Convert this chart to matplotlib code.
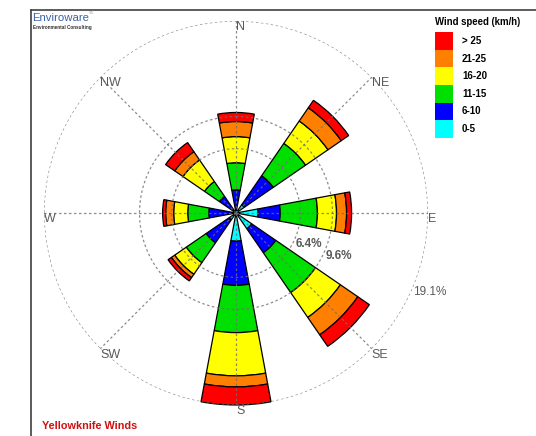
import numpy as np
import matplotlib.pyplot as plt
from matplotlib.lines import Line2D

plt.rcParams['font.family'] = ['Liberation Sans', 'DejaVu Sans']

directions = ['N', 'NE', 'E', 'SE', 'S', 'SW', 'W', 'NW']
angles_deg = [0, 45, 90, 135, 180, 225, 270, 315]
speed_bins = ['0-5', '6-10', '11-15', '16-20', '21-25', '> 25']
bin_colors = ['#00ffff', '#0000ff', '#00e000', '#ffff00', '#ff8000', '#ff0000']

# frequency (%) of each speed class, one value per direction (N, NE, ... NW)
freq_0_5 = [0.3, 1.0, 2.2, 1.9, 2.8, 0.8, 0.4, 0.3]
freq_6_10 = [2.0, 3.5, 2.2, 2.9, 4.4, 2.8, 2.3, 1.7]
freq_11_15 = [2.7, 3.9, 3.7, 4.8, 4.7, 2.4, 2.1, 1.8]
freq_16_20 = [2.6, 2.7, 1.9, 3.0, 4.3, 1.4, 1.4, 2.6]
freq_21_25 = [1.5, 1.6, 1.0, 2.1, 1.1, 0.4, 0.8, 1.0]
freq_gt_25 = [0.9, 0.9, 0.5, 1.4, 1.8, 0.4, 0.3, 1.1]

ring_levels = [6.4, 9.6, 19.1]

W, H = 536, 436
fig = plt.figure(figsize=(W / 100, H / 100), dpi=100)
fig.patch.set_facecolor('white')

# frame lines (left and top)
fig.add_artist(Line2D([31 / W, 31 / W], [0, 1 - 10 / H], color='#404040', lw=1.2))
fig.add_artist(Line2D([31 / W, 1], [1 - 10 / H, 1 - 10 / H], color='#404040', lw=1.2))

rmax = ring_levels[-1]
ax = fig.add_axes([44 / W, 31 / H, 384 / W, 384 / H], projection='polar')
ax.set_theta_zero_location('N')
ax.set_theta_direction(-1)
ax.set_ylim(0, rmax)
ax.grid(False)
ax.set_xticks([])
ax.set_yticks([])
ax.spines['polar'].set_visible(False)
ax.patch.set_alpha(0)

theta = np.radians(angles_deg)
width = np.radians(21)
series = [freq_0_5, freq_6_10, freq_11_15, freq_16_20, freq_21_25, freq_gt_25]
bottom = np.zeros(len(directions))
for vals, col in zip(series, bin_colors):
    ax.bar(theta, vals, width=width, bottom=bottom, color=col,
           edgecolor='black', linewidth=0.9, zorder=2, clip_on=False)
    bottom += np.array(vals)

# dashed grid on top of the petals
grid_kw = dict(color='#707070', lw=0.9, ls=(0, (2, 2)), alpha=0.8, zorder=3)
circ = np.linspace(0, 2 * np.pi, 361)
for lev in ring_levels:
    ax.plot(circ, np.full_like(circ, lev), **grid_kw)
for t in theta:
    ax.plot([t, t], [0, rmax], **grid_kw)

for t, name in zip(theta, directions):
    ax.text(t, rmax, name, ha='left', va='top', fontsize=9, color='#5a5a5a')

for lev in ring_levels:
    ax.text(np.radians(112.5), lev, f'{lev:.1f}%', ha='left', va='top',
            fontsize=8.5, color='#5a5a5a', fontweight='bold' if lev < rmax else 'normal')

# legend
lax = fig.add_axes([435 / W, (H - 138) / H, 18 / W, 106 / H])
lax.bar(np.zeros(len(speed_bins)), np.ones(len(speed_bins)),
        bottom=np.arange(len(speed_bins)), width=1.0, color=bin_colors)
lax.set_xlim(-0.5, 0.5)
lax.set_ylim(0, len(speed_bins))
lax.axis('off')
for i, lab in enumerate(speed_bins):
    lax.text(1.0, i + 0.5, lab, ha='left', va='center', fontsize=7, fontweight='bold')
fig.text(435 / W, 1 - 22 / H, 'Wind speed (km/h)', ha='left', va='center',
         fontsize=6.9, fontweight='bold')

# logo and title
fig.text(32 / W, 1 - 18 / H, 'Enviroware', ha='left', va='center', fontsize=8.2, color='#3a64a8')
fig.text(89 / W, 1 - 13 / H, 'srl', ha='left', va='center', fontsize=3.5, color='#b0b0b0')
fig.text(33 / W, 1 - 27.5 / H, 'Environmental Consulting', ha='left', va='center',
         fontsize=3.3, color='#303030', fontweight='bold')
fig.text(42 / W, 1 - 426 / H, 'Yellowknife Winds', ha='left', va='center',
         fontsize=7.8, fontweight='bold', color='#d01010')

fig.savefig('out.png', dpi=100)
